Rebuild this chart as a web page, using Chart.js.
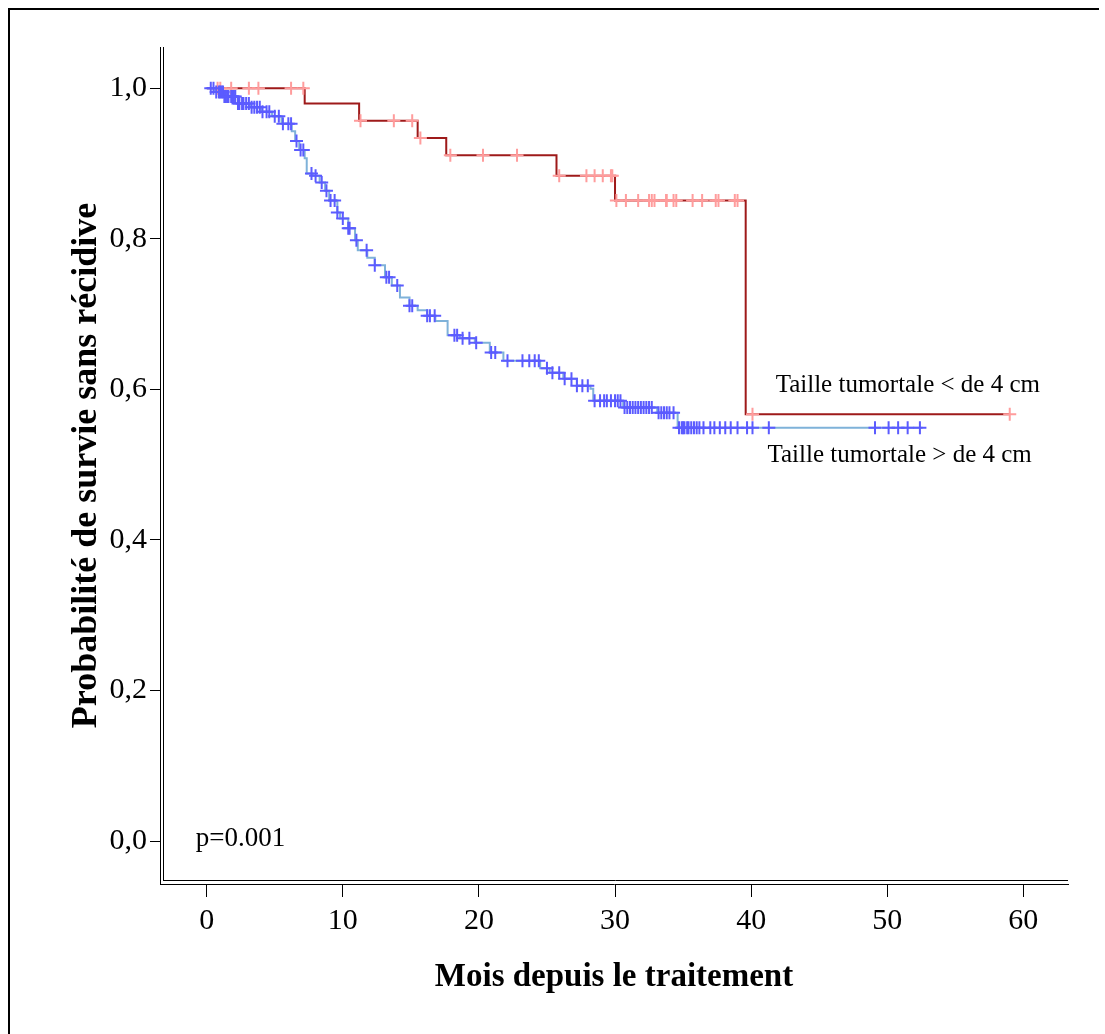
<!DOCTYPE html>
<html lang="fr">
<head>
<meta charset="utf-8">
<title>Survie sans récidive selon la taille tumorale</title>
<script src="https://cdn.jsdelivr.net/npm/chart.js"></script>
<style>
html,body{margin:0;padding:0;background:#fff;overflow:hidden}
#wrap{position:relative;width:1105px;height:1034px}
#frame{position:absolute;left:8px;top:8px;width:1089px;height:1100px;
  border-left:2px solid #000;border-top:2px solid #000;pointer-events:none}
canvas{position:absolute;left:0;top:0}
</style>
</head>
<body>
<div id="wrap">
  <canvas id="km" width="1105" height="1034"></canvas>
  <div id="frame"></div>
</div>

<script>
/* ---------- données ---------- */
// Taille tumorale < 4 cm : temps des événements (mois) et survie
const petitT = [0, 7.2, 11.2, 15.5, 17.6, 25.7, 30.0, 39.6, 59.0];
const petitS = [1.0, 0.980, 0.957, 0.934, 0.911, 0.884, 0.851, 0.567, 0.567];
// censures (mois)
const petitCens = [0.8, 1.0, 1.8, 3.1, 3.8, 6.2, 7.1,
  11.3, 13.75, 15.1, 15.7, 17.9, 20.3, 22.8,
  25.9, 27.9, 28.5, 29.1, 29.7, 29.8,
  30.1, 30.8, 31.7, 32.5, 32.7, 32.9, 33.75, 33.8, 34.3, 34.5, 35.7, 36.4, 37.4, 37.6, 38.8, 39.0,
  40.1, 59.0];

// Taille tumorale > 4 cm
const grandT = [0, 0.6, 1.3, 2.3, 3.2, 4.0, 4.8, 5.5, 6.25, 6.5,
  6.8, 7.2, 7.35, 7.8, 8.3, 8.7, 9.0, 9.6, 9.8, 10.4,
  10.9, 11.1, 11.8, 12.35, 13.1, 13.6, 14.2, 14.9, 15.5, 16.2,
  16.8, 17.7, 18.6, 19.7, 20.8, 21.8, 24.5, 25.2, 26.2, 27.2,
  28.2, 28.4, 30.6, 33.1, 34.6, 52.6];
const grandS = [1.0, 0.995, 0.989, 0.980, 0.975, 0.969, 0.963, 0.953, 0.943, 0.930,
  0.918, 0.907, 0.887, 0.884, 0.875, 0.864, 0.851, 0.835, 0.827, 0.814,
  0.798, 0.785, 0.775, 0.765, 0.749, 0.738, 0.722, 0.711, 0.705, 0.698,
  0.691, 0.672, 0.668, 0.662, 0.649, 0.638, 0.628, 0.622, 0.614, 0.605,
  0.601, 0.585, 0.576, 0.569, 0.549, 0.549];
const grandCens = [0.3, 0.5, 0.7, 0.9, 1.0, 1.1, 1.2, 1.3, 1.4, 1.5, 1.6, 1.8, 1.9, 2.0, 2.1,
  2.3, 2.4, 2.6, 2.7, 2.9, 3.1, 3.3, 3.5, 3.7, 3.9, 4.1, 4.4, 4.6, 5.0, 5.3, 5.6, 6.0, 6.2,
  6.6, 6.9, 7.1, 7.7, 8.0, 8.45, 8.8, 9.1, 9.4, 9.6, 10.0, 10.4, 10.5, 11.0, 11.75, 12.35,
  13.2, 13.4, 14.0, 14.9, 15.1, 16.2, 16.4, 16.75, 18.2, 18.4, 18.8, 19.3, 19.8, 20.9, 21.2,
  22.1, 23.2, 23.7, 24.1, 24.4, 25.0, 25.4, 25.9, 26.3, 26.8, 27.2, 27.6, 28.0, 28.5, 28.9,
  29.2, 29.4, 29.7, 30.0, 30.2, 30.4, 30.7, 30.9, 31.1, 31.3, 31.5, 31.7, 31.9, 32.1, 32.3,
  32.5, 32.7, 33.2, 33.4, 33.6, 33.8, 34.0, 34.3, 34.7, 34.9, 35.0, 35.1, 35.3, 35.4, 35.6,
  35.8, 36.0, 36.2, 36.5, 37.0, 37.3, 37.7, 38.1, 38.5, 39.0, 39.7, 40.1, 41.3,
  49.1, 50.1, 50.8, 51.5, 52.4];

const xTicks = [0, 10, 20, 30, 40, 50, 60];
const yTicks = [0, 0.2, 0.4, 0.6, 0.8, 1.0];

const notes = [
  {text:'p=0.001', x:-0.8, y:-0.007, size:27},
  {text:'Taille tumortale < de 4 cm', x:41.8, y:0.596, size:25},
  {text:'Taille tumortale > de 4 cm', x:41.2, y:0.504, size:25}
];

/* ---------- helpers ---------- */
const FONT = "'Liberation Serif','Times New Roman',serif";
const pts = (T,S) => T.map((t,i)=>({x:t, y:S[i]}));
// valeur de la courbe KM au temps t (dernier événement <= t)
function survieA(t, T, S){
  let v = S[0];
  for(let i=0;i<T.length;i++){ if(T[i] <= t) v = S[i]; }
  return v;
}
const cens = (C,T,S) => C.map(t=>({x:t, y:survieA(t,T,S)}));

/* ---------- axe double + textes ---------- */
const decor = {
  id:'decor',
  afterDraw(chart){
    const {ctx, chartArea:a, scales:{x, y}} = chart;
    ctx.save();
    ctx.strokeStyle = '#000'; ctx.lineWidth = 1;
    ctx.beginPath();
    ctx.moveTo(a.left + 3.5, a.top); ctx.lineTo(a.left + 3.5, a.bottom - 3);
    ctx.moveTo(a.left + 3, a.bottom - 3.5); ctx.lineTo(a.right, a.bottom - 3.5);
    ctx.stroke();
    ctx.fillStyle = '#000';
    ctx.textBaseline = 'alphabetic'; ctx.textAlign = 'left';
    notes.forEach(n=>{
      ctx.font = n.size + 'px ' + FONT;
      ctx.fillText(n.text, x.getPixelForValue(n.x), y.getPixelForValue(n.y));
    });
    ctx.restore();
  }
};

const crossStyle = (col) => ({
  type:'scatter', showLine:false, pointStyle:'cross',
  pointRadius:6.5, pointHoverRadius:6.5, pointBorderWidth:2,
  borderColor:col, backgroundColor:col
});

new Chart(document.getElementById('km'), {
  type:'line',
  data:{datasets:[
    {...crossStyle('#5b5bff'), data:cens(grandCens, grandT, grandS)},
    {...crossStyle('#ff9c9c'), data:cens(petitCens, petitT, petitS)},
    {data:pts(grandT, grandS), stepped:true, borderColor:'#7fb2d9', borderWidth:2, pointRadius:0, fill:false},
    {data:pts(petitT, petitS), stepped:true, borderColor:'#9e1a1a', borderWidth:2, pointRadius:0, fill:false}
  ]},
  options:{
    responsive:false, animation:false, devicePixelRatio:1,
    layout:{padding:{left:0, top:47, right:37, bottom:0}},
    plugins:{legend:{display:false}, tooltip:{enabled:false}},
    scales:{
      x:{
        type:'linear', min:-3.43, max:63.28,
        afterBuildTicks:s=>{ s.ticks = xTicks.map(v=>({value:v})); },
        afterFit:s=>{ s.height = 150; },
        grid:{drawOnChartArea:false, drawTicks:true, tickLength:13, color:'#000'},
        border:{display:true, color:'#000', width:1},
        ticks:{color:'#000', padding:6, maxRotation:0, font:{family:FONT, size:30}},
        title:{display:true, text:'Mois depuis le traitement', color:'#000',
          font:{family:FONT, size:33, weight:'bold'}, padding:{top:0, bottom:37}}
      },
      y:{
        type:'linear', min:-0.0571, max:1.0549,
        afterBuildTicks:s=>{ s.ticks = yTicks.map(v=>({value:v})); },
        afterFit:s=>{ s.width = 160; },
        grid:{drawOnChartArea:false, drawTicks:true, tickLength:10, color:'#000'},
        border:{display:true, color:'#000', width:1},
        ticks:{color:'#000', padding:3, font:{family:FONT, size:30},
          callback:v=>v.toFixed(1).replace('.', ',')},
        title:{display:true, text:'Probabilité de survie sans récidive', color:'#000',
          font:{family:FONT, size:36, weight:'bold'}, padding:{top:65, bottom:0}}
      }
    }
  },
  plugins:[decor]
});
</script>
</body>
</html>
